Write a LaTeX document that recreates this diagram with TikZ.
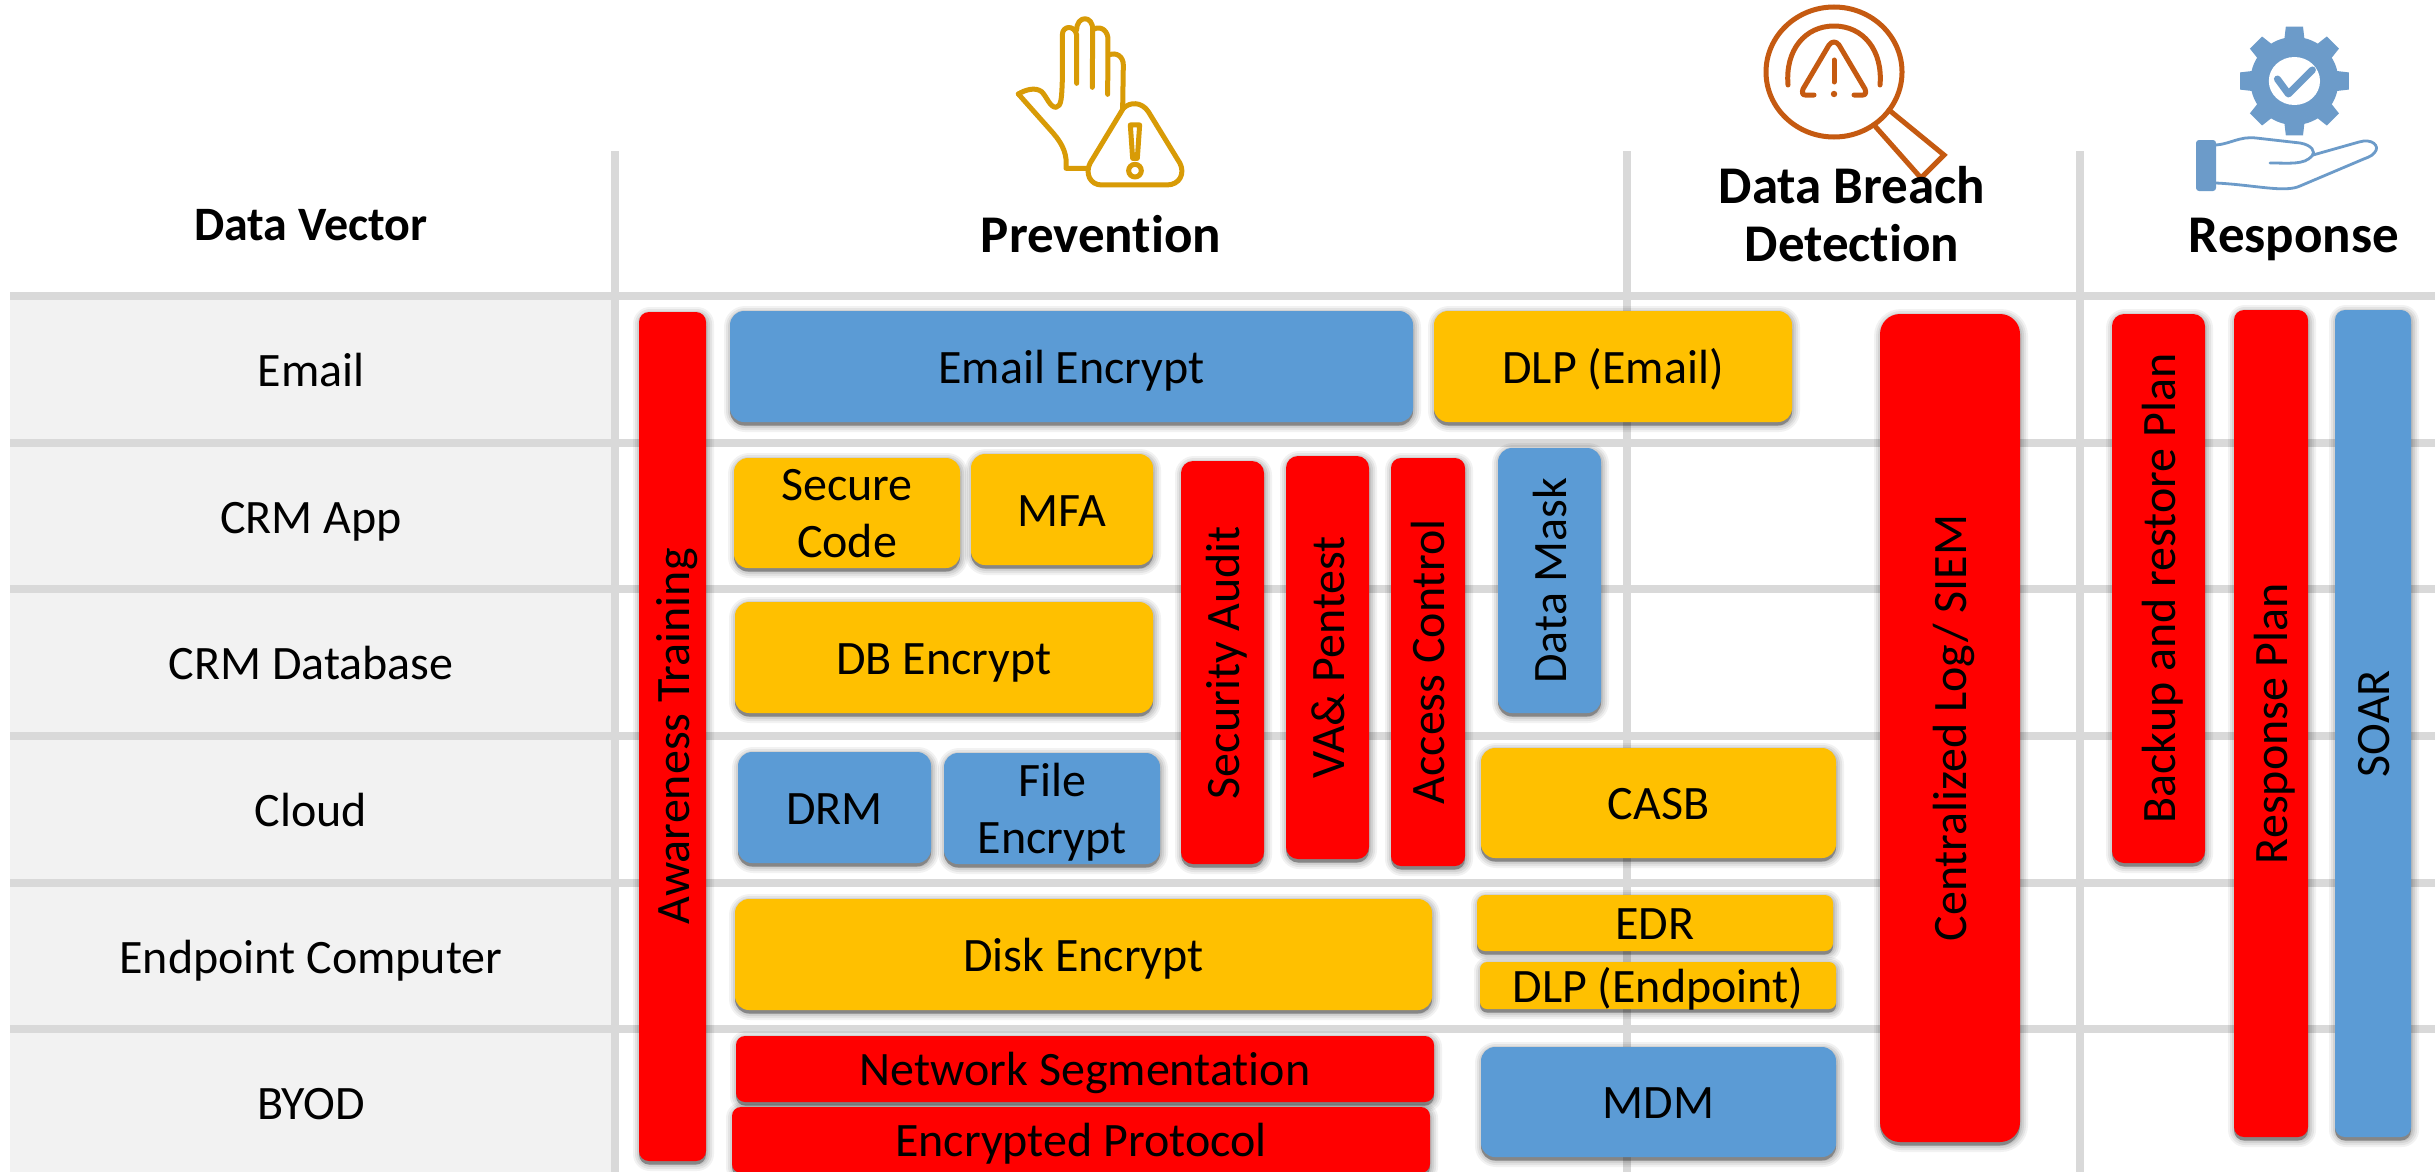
\documentclass[tikz,border=0pt]{standalone}
\usepackage{fontspec}
\setmainfont{Carlito}[Ligatures=CommonOff]
\definecolor{gridc}{HTML}{D9D9D9}
\definecolor{bandc}{HTML}{F2F2F2}
\definecolor{bluec}{HTML}{5B9BD5}
\definecolor{yelc}{HTML}{FFC000}
\definecolor{redc}{HTML}{FF0000}
\definecolor{goldc}{HTML}{D89B06}
\definecolor{orangec}{HTML}{C55A11}
\definecolor{steelc}{HTML}{6C9BC9}
\newcommand{\shad}[5]{%
  \foreach \o/\op in {7/.05,5/.06,3/.07,1/.08}{
    \fill[black,opacity=\op,rounded corners=#5+\o] ({#1-\o+1},{#2-\o+2}) rectangle ({#3+\o+1},{#4+\o+3});
  }
  \fill[black,opacity=.3,rounded corners=#5] ({#1},{#2+4}) rectangle ({#3},{#4+3.5});
}
% name x1 y1 x2 y2 colour radius text
\newcommand{\hbx}[8]{%
  \shad{#2}{#3}{#4}{#5}{#7}
  \node[boxn,fill=#6,rounded corners=#7pt,minimum width={(#4-#2)*1pt},minimum height={(#5-#3)*1pt}] (#1) at ({(#2+#4)/2},{(#3+#5)/2}) {#8};
}
% two-line box: text is a separate named node, placed by its last baseline
\newcommand{\tbx}[9]{%
  \shad{#2}{#3}{#4}{#5}{#7}
  \node[boxn,fill=#6,rounded corners=#7pt,minimum width={(#4-#2)*1pt},minimum height={(#5-#3)*1pt}] (#1) at ({(#2+#4)/2},{(#3+#5)/2}) {};
  \node[twol] (#1t) at ({(#2+#4)/2},#9) {#8};
}
\newcommand{\vbx}[8]{%
  \shad{#2}{#3}{#4}{#5}{#7}
  \node[boxn,rotate=90,fill=#6,rounded corners=#7pt,minimum width={(#5-#3)*1pt},minimum height={(#4-#2)*1pt}] (#1) at ({(#2+#4)/2},{(#3+#5)/2}) {#8};
}
\tikzset{
  boxn/.style={inner sep=0pt,outer sep=0pt,align=center,text height=37pt,text depth=4pt,font=\fontsize{48}{57}\selectfont},
  twol/.style={inner sep=0pt,outer sep=0pt,align=center,anchor=base,font=\fontsize{48}{57}\selectfont},
  rowlab/.style={anchor=base,inner sep=0pt,font=\fontsize{48}{56}\selectfont},
  headlab/.style={anchor=base,inner sep=0pt,align=center,font=\fontsize{53}{58}\selectfont\bfseries},
  gridl/.style={draw=gridc,line width=8pt},
  goldl/.style={draw=goldc,line width=5pt,line cap=round,line join=round},
  orl/.style={draw=orangec,line width=5pt,line cap=round,line join=round},
  stl/.style={draw=steelc,line width=2.8pt,line cap=round,line join=round}
}
\begin{document}
\begin{tikzpicture}[x=1pt,y=-1pt]
\useasboundingbox (0,0) rectangle (2435,1172);
\clip (0,0) rectangle (2435,1172);
\fill[white] (0,0) rectangle (2435,1172);
% left band
\foreach \a/\b in {296/443,443/589,589/736,736/882.5,882.5/1029,1029/1172}{
  \fill[bandc] (10,\a) rectangle (611,\b);
}
% grid
\foreach \yy in {296,443,589,736,882.5,1029}{ \draw[gridl] (10,\yy) -- (2435,\yy); }
\foreach \xx in {615,1627,2080}{ \draw[draw=gridc,line width=7.5pt] (\xx,151) -- (\xx,1172); }

% hand icon (prevention)
\begin{scope}[shift={(950,0)},x=.3333pt,y=-.3333pt]
\draw[goldl] (205,282) .. controls (225,270) and (255,260) .. (275,275) .. controls (290,290) and (300,322) .. (318,322) .. controls (335,320) and (335,290) .. (337,240) -- (337,105) .. controls (337,75) and (375,75) .. (380,105) -- (380,250);
\draw[goldl] (380,90) .. controls (380,45) and (430,45) .. (428,90) -- (427,262);
\draw[goldl] (430,88) .. controls (455,75) and (475,95) .. (474,120) -- (473,283);
\draw[goldl] (476,165) .. controls (500,155) and (520,170) .. (520,195) -- (518,325);
\draw[goldl] (205,282) -- (310,400) .. controls (340,435) and (352,465) .. (348,505) -- (410,505);
\draw[goldl] (520,325) .. controls (540,305) and (575,305) .. (595,335) -- (690,490) .. controls (705,520) and (690,555) .. (650,555) -- (455,555) .. controls (420,555) and (405,520) .. (420,490) -- (520,325);
\draw[goldl] (541,375) -- (569,375) -- (562,475) -- (548,475) -- cycle;
\draw[goldl] (555,512) circle[radius=19];
\end{scope}

% magnifier icon (detection)
\draw[orl] (1834,72) ellipse[x radius=68,y radius=65];
\draw[orl] (1788,85) .. controls (1785,50) and (1805,26) .. (1834,26) .. controls (1863,26) and (1883,50) .. (1880,85);
\draw[orl] (1814,95) -- (1805,95) .. controls (1802,95) and (1802,92) .. (1803,89) -- (1829,45) .. controls (1832,41) and (1836,41) .. (1839,45) -- (1865,89) .. controls (1866,92) and (1866,95) .. (1863,95) -- (1854,95);
\draw[orl] (1834,60) -- (1834,82);
\fill[orangec] (1834,94) circle[radius=3.2];
\draw[orl,line join=miter] (1889,110) -- (1944,155) -- (1921,178) -- (1874,125);

% gear icon (response)
\begin{scope}[shift={(2294.4,81)}]
\fill[steelc] (0,0) circle[radius=44];
\foreach \a in {0,45,...,315}{
  \fill[steelc] (\a-14:42) -- (\a-9:55) -- (\a+9:55) -- (\a+14:42) -- cycle;
}
\fill[white] (0,0) ellipse[x radius=25.6,y radius=24];
\draw[steelc,line width=7pt,line cap=round,line join=round] (-17,-2) -- (-6,13) -- (18,-11);
\end{scope}
% open hand
\fill[steelc,rounded corners=3pt] (2196,140) rectangle (2216,191);
\draw[stl] (2216,145) .. controls (2230,144) and (2240,136) .. (2256,138) -- (2300,143) .. controls (2312,145) and (2316,152) .. (2312,156) .. controls (2304,165) and (2290,163) .. (2270,163);
\draw[stl] (2313,155) -- (2359,142) .. controls (2372,138) and (2380,146) .. (2375,152) .. controls (2372,157) and (2365,158) .. (2359,161) -- (2300,186) .. controls (2285,193) and (2255,185) .. (2216,183);

% headers
\node[headlab,font=\fontsize{48}{58}\selectfont\bfseries] (hvec) at (311,240) {Data Vector};
\node[headlab] (hprev) at (1101,252) {Prevention};
\node[headlab] (hdet1) at (1852,203) {Data Breach};
\node[headlab] (hdet2) at (1852,261) {Detection};
\node[headlab] (hres) at (2294,252) {Response};

% row labels
\node[rowlab] (r1) at (311,386) {Email};
\node[rowlab] (r2) at (311,533) {CRM App};
\node[rowlab] (r3) at (311,679) {CRM Database};
\node[rowlab] (r4) at (311,826) {Cloud};
\node[rowlab] (r5) at (311,973) {Endpoint Computer};
\node[rowlab] (r6) at (311,1119) {BYOD};

% boxes
\vbx{aware}{639}{312}{706}{1161}{redc}{10}{Awareness Training}
\hbx{emailenc}{730}{311}{1413}{422}{bluec}{14}{Email Encrypt}
\hbx{dlpemail}{1434}{311}{1792}{422}{yelc}{14}{DLP (Email)}
\tbx{secure}{734}{458}{960}{568}{yelc}{14}{Secure\\Code}{557}
\hbx{mfa}{971}{454}{1153}{565}{yelc}{14}{MFA}
\hbx{dbenc}{735}{602}{1153}{713}{yelc}{14}{DB Encrypt}
\vbx{audit}{1181}{461}{1264}{864}{redc}{12}{Security Audit}
\vbx{pentest}{1286}{456}{1369}{859}{redc}{12}{VA\& Pentest}
\vbx{access}{1391}{458}{1465}{866}{redc}{10}{Access Control}
\vbx{mask}{1498}{448}{1601}{713}{bluec}{14}{Data Mask}
\hbx{drm}{738}{752}{931}{863}{bluec}{14}{DRM}
\tbx{fileenc}{944}{753}{1160}{864}{bluec}{14}{File\\Encrypt}{853}
\hbx{casb}{1481}{748}{1836}{858}{yelc}{14}{CASB}
\hbx{disk}{735}{899}{1432}{1010}{yelc}{14}{Disk Encrypt}
\hbx{edr}{1477}{895}{1833}{951}{yelc}{8}{EDR}
\hbx{dlpend}{1480}{962}{1836}{1009}{yelc}{7}{DLP (Endpoint)}
\hbx{netseg}{736}{1036}{1434}{1102}{redc}{9}{Network Segmentation}
\hbx{encprot}{732}{1107}{1430}{1173}{redc}{9}{Encrypted Protocol}
\hbx{mdm}{1481}{1047}{1836}{1157}{bluec}{14}{MDM}
\vbx{siem}{1880}{314}{2020}{1142}{redc}{20}{Centralized Log/ SIEM}
\vbx{backup}{2112}{314}{2205}{863}{redc}{12}{Backup and restore Plan}
\vbx{resplan}{2234}{310}{2308}{1137}{redc}{10}{Response Plan}
\vbx{soar}{2335}{310}{2411}{1137}{bluec}{10}{SOAR}
\end{tikzpicture}
\end{document}
